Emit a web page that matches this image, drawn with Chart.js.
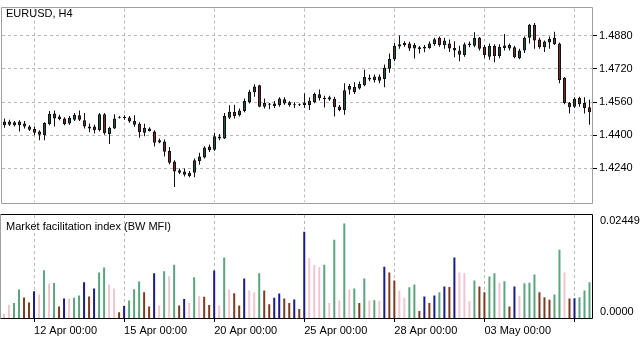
<!DOCTYPE html>
<html>
<head>
<meta charset="utf-8">
<script src="https://cdn.jsdelivr.net/npm/chart.js@4.4.1/dist/chart.umd.min.js"></script>
<style>
body { margin: 0; background: #fff; width: 640px; height: 339px; overflow: hidden; position: relative; font-family: "Liberation Sans", Arial, sans-serif; }
canvas { position: absolute; left: 0; }
#top { top: 0; }
#mfi { top: 211px; }
.lbl { position: absolute; font-size: 11px; line-height: 12px; color: #000; white-space: nowrap; }
</style>
</head>
<body>
<canvas id="top" width="640" height="211"></canvas>
<canvas id="mfi" width="640" height="128"></canvas>
<div class="lbl" id="t1" style="left:6px;top:7px"></div>
<div class="lbl" id="t2" style="left:6px;top:220px"></div>
<div class="lbl" id="m1" style="left:600px;top:214px"></div>
<div class="lbl" id="m2" style="left:600px;top:305px"></div>
<script>
// EURUSD H4, 11 Apr - 06 May (one entry per bar)
const opens = [
  1.4466,1.4451,1.4463,1.4448,1.4457,1.4442,1.4430,1.4418,1.4400,1.4454,
  1.4505,1.4478,1.4481,1.4457,1.4475,1.4496,1.4472,1.4442,1.4442,1.4425,
  1.4501,1.4406,1.4433,1.4484,1.4486,1.4486,1.4469,1.4456,1.4412,1.4433,
  1.4418,1.4365,1.4370,1.4325,1.4274,1.4219,1.4225,1.4204,1.4219,1.4276,
  1.4293,1.4346,1.4330,1.4394,1.4385,1.4484,1.4514,1.4496,1.4517,1.4559,
  1.4608,1.4641,1.4538,1.4553,1.4541,1.4545,1.4574,1.4559,1.4545,1.4547,
  1.4546,1.4546,1.4559,1.4598,1.4581,1.4573,1.4576,1.4539,1.4522,1.4620,
  1.4633,1.4626,1.4641,1.4678,1.4665,1.4684,1.4671,1.4721,1.4765,1.4828,
  1.4836,1.4843,1.4818,1.4825,1.4818,1.4821,1.4839,1.4870,1.4834,1.4843,
  1.4821,1.4809,1.4787,1.4843,1.4832,1.4870,1.4827,1.4779,1.4832,1.4782,
  1.4821,1.4836,1.4825,1.4772,1.4809,1.4870,1.4933,1.4862,1.4825,1.4847,
  1.4870,1.4843,1.4677,1.4556,1.4538,1.4581,1.4556,1.4535
];
const highs = [
  1.4481,1.4475,1.4469,1.4472,1.4469,1.4448,1.4442,1.4424,1.4463,1.4517,
  1.4520,1.4499,1.4487,1.4493,1.4508,1.4520,1.4508,1.4457,1.4451,1.4508,
  1.4508,1.4441,1.4501,1.4493,1.4496,1.4493,1.4496,1.4463,1.4456,1.4439,
  1.4424,1.4385,1.4379,1.4343,1.4279,1.4240,1.4240,1.4228,1.4288,1.4316,
  1.4347,1.4355,1.4412,1.4406,1.4508,1.4545,1.4547,1.4529,1.4577,1.4619,
  1.4646,1.4644,1.4577,1.4556,1.4565,1.4583,1.4583,1.4565,1.4559,1.4553,
  1.4603,1.4582,1.4606,1.4621,1.4591,1.4591,1.4586,1.4546,1.4651,1.4647,
  1.4656,1.4659,1.4716,1.4693,1.4693,1.4693,1.4741,1.4794,1.4846,1.4881,
  1.4854,1.4851,1.4845,1.4830,1.4836,1.4852,1.4870,1.4877,1.4870,1.4862,
  1.4854,1.4832,1.4847,1.4852,1.4897,1.4874,1.4836,1.4843,1.4839,1.4839,
  1.4888,1.4843,1.4832,1.4817,1.4877,1.4937,1.4942,1.4870,1.4857,1.4877,
  1.4899,1.4847,1.4681,1.4561,1.4583,1.4586,1.4583,1.4572
];
const lows = [
  1.4436,1.4445,1.4442,1.4418,1.4433,1.4421,1.4400,1.4376,1.4376,1.4448,
  1.4442,1.4472,1.4448,1.4451,1.4469,1.4469,1.4433,1.4415,1.4409,1.4418,
  1.4403,1.4358,1.4430,1.4481,1.4475,1.4460,1.4441,1.4388,1.4395,1.4418,
  1.4346,1.4361,1.4297,1.4260,1.4150,1.4213,1.4201,1.4198,1.4198,1.4258,
  1.4288,1.4319,1.4325,1.4376,1.4382,1.4478,1.4481,1.4490,1.4511,1.4553,
  1.4586,1.4535,1.4529,1.4526,1.4532,1.4538,1.4547,1.4538,1.4532,1.4541,
  1.4531,1.4522,1.4555,1.4568,1.4534,1.4567,1.4490,1.4516,1.4499,1.4597,
  1.4599,1.4621,1.4636,1.4660,1.4654,1.4651,1.4632,1.4701,1.4757,1.4817,
  1.4827,1.4806,1.4770,1.4794,1.4800,1.4817,1.4832,1.4827,1.4817,1.4802,
  1.4776,1.4757,1.4779,1.4825,1.4825,1.4809,1.4772,1.4764,1.4752,1.4772,
  1.4809,1.4809,1.4772,1.4767,1.4797,1.4843,1.4817,1.4817,1.4802,1.4817,
  1.4836,1.4651,1.4550,1.4505,1.4531,1.4538,1.4505,1.4451
];
const closes = [
  1.4448,1.4466,1.4448,1.4466,1.4442,1.4427,1.4412,1.4403,1.4460,1.4502,
  1.4481,1.4490,1.4454,1.4484,1.4499,1.4475,1.4442,1.4433,1.4424,1.4501,
  1.4410,1.4436,1.4481,1.4487,1.4483,1.4466,1.4451,1.4415,1.4436,1.4421,
  1.4364,1.4376,1.4321,1.4267,1.4225,1.4231,1.4210,1.4219,1.4279,1.4297,
  1.4341,1.4328,1.4395,1.4385,1.4493,1.4514,1.4493,1.4520,1.4565,1.4610,
  1.4635,1.4538,1.4556,1.4547,1.4553,1.4577,1.4553,1.4545,1.4550,1.4545,
  1.4558,1.4567,1.4599,1.4579,1.4575,1.4583,1.4535,1.4522,1.4617,1.4638,
  1.4607,1.4647,1.4681,1.4669,1.4684,1.4663,1.4726,1.4768,1.4832,1.4839,
  1.4845,1.4819,1.4836,1.4815,1.4827,1.4843,1.4863,1.4836,1.4857,1.4818,
  1.4809,1.4788,1.4839,1.4834,1.4870,1.4817,1.4787,1.4832,1.4782,1.4827,
  1.4833,1.4818,1.4776,1.4809,1.4870,1.4933,1.4857,1.4825,1.4852,1.4866,
  1.4839,1.4666,1.4556,1.4535,1.4576,1.4550,1.4531,1.4511
];

// BW MFI value and zone per bar (g = green, f = fade, b = fake, s = squat)
const mfi = [
  0.00100,0.00317,0.00354,0.00678,0.00489,0.00371,0.00638,0.00560,0.01134,0.00820,
  0.00831,0.00276,0.00465,0.00458,0.00482,0.00536,0.00850,0.00513,0.00702,0.01079,
  0.01198,0.00796,0.00702,0.00135,0.00283,0.00418,0.00685,0.00867,0.00614,0.00276,
  0.01063,0.00300,0.01110,0.00992,0.01268,0.00300,0.00449,0.00354,0.00968,0.00520,
  0.00505,0.00307,0.01127,0.00300,0.01441,0.00678,0.00591,0.00300,0.00938,0.00654,
  0.00614,0.01063,0.00654,0.00324,0.00482,0.00583,0.00465,0.00354,0.00442,0.00213,
  0.02048,0.01427,0.01261,0.01205,0.01268,0.00354,0.01859,0.00418,0.02244,0.00678,
  0.00702,0.00354,0.00938,0.00418,0.00425,0.00411,0.01221,0.01079,0.00890,0.00654,
  0.00482,0.00732,0.00796,0.00165,0.00513,0.00354,0.00536,0.00614,0.00749,0.00737,
  0.01441,0.01079,0.01072,0.00402,0.00890,0.00749,0.00614,0.00985,0.01063,0.00836,
  0.00874,0.00276,0.00749,0.00529,0.00827,0.00836,0.01032,0.00614,0.00496,0.00435,
  0.00560,0.01623,0.01079,0.00465,0.00470,0.00496,0.00654,0.00850
];
const mfiZone = [
  's','s','g','g','f','f','b','s','g','s',
  'g','f','b','s','g','g','b','f','b','g',
  'g','s','s','f','b','g','g','g','f','f',
  'b','s','g','s','g','f','b','s','g','s',
  'f','f','b','s','g','s','f','f','b','s',
  's','g','f','f','b','b','f','f','b','f',
  'b','s','s','s','g','s','g','s','g','s',
  'g','f','g','s','g','s','b','f','f','s',
  's','g','g','f','b','f','b','g','b','f',
  'b','s','s','s','g','f','f','g','g','s',
  'g','f','b','s','g','g','g','f','f','f',
  'g','g','s','f','b','g','g','g'
];

const priceTicks = [1.4240, 1.4400, 1.4560, 1.4720, 1.4880];
const priceMin = 1.40762, priceMax = 1.50110;
const mfiMax = 0.02449;
const mfiTickLabels = ['0.02449', '0.0000'];
const timeTickIndex = [6, 24, 42, 60, 78, 96, 114];
const timeTickLabels = ['12 Apr 00:00', '15 Apr 00:00', '20 Apr 00:00', '25 Apr 00:00', '28 Apr 00:00', '03 May 00:00', ''];

document.getElementById('t1').textContent = 'EURUSD, H4';
document.getElementById('t2').textContent = 'Market facilitation index (BW MFI)';
document.getElementById('m1').textContent = mfiTickLabels[0];
document.getElementById('m2').textContent = mfiTickLabels[1];

const zoneColors = { g: '#5aa57e', f: '#7d3c20', b: '#1a1a8a', s: '#efc5d0' };
const gridColor = '#b8b8b8';
const font = { family: '"Liberation Sans", Arial, sans-serif', size: 11 };
const labels = opens.map((o, i) => i);
const vGrid = c => timeTickIndex.includes(c.index) ? gridColor : 'rgba(0,0,0,0)';

// frame round the plot area
function frame(colors) {
  return {
    id: 'frame',
    afterDraw(chart) {
      const a = chart.chartArea, ctx = chart.ctx;
      const l = Math.floor(a.left) - 0.5, t = Math.floor(a.top) - 0.5;
      const r = Math.ceil(a.right) + 0.5, b = Math.ceil(a.bottom) + 0.5;
      ctx.save();
      ctx.lineWidth = 1;
      const side = (col, x1, y1, x2, y2) => {
        ctx.strokeStyle = col; ctx.beginPath(); ctx.moveTo(x1, y1); ctx.lineTo(x2, y2); ctx.stroke();
      };
      side(colors.top, l, t, r, t);
      side(colors.left, l, t, l, b);
      side(colors.right, r, t, r, b);
      side(colors.bottom, l, b, r, b);
      ctx.restore();
    }
  };
}

Chart.defaults.font.family = font.family;
Chart.defaults.font.size = 11;

new Chart(document.getElementById('top'), {
  type: 'bar',
  data: {
    labels: labels,
    datasets: [{
      data: opens.map((o, i) => [o, closes[i]]),
      backgroundColor: opens.map((o, i) => closes[i] >= o ? '#24553a' : '#7a2828'),
      borderColor: '#111',
      borderWidth: 1,
      borderSkipped: false,
      barThickness: 3,
      minBarLength: 1,
      inflateAmount: 0,
      grouped: false,
      order: 0
    }, {
      data: lows.map((l, i) => [l, highs[i]]),
      backgroundColor: '#111',
      barThickness: 1,
      inflateAmount: 0,
      grouped: false,
      order: 1
    }]
  },
  options: {
    responsive: false,
    animation: false,
    layout: { padding: { left: 2, top: 2, right: 0, bottom: 2 } },
    plugins: { legend: { display: false }, tooltip: { enabled: false } },
    scales: {
      x: {
        offset: true,
        grid: { offset: false, color: vGrid, drawTicks: false },
        border: { display: false, dash: [3, 3] },
        ticks: { display: false },
        afterFit: s => { s.height = 0; }
      },
      y: {
        position: 'right',
        min: priceMin,
        max: priceMax,
        afterBuildTicks: s => { s.ticks = priceTicks.map(v => ({ value: v })); },
        ticks: { callback: v => v.toFixed(4), color: '#000', font: font, padding: 2 },
        grid: { color: gridColor, tickColor: '#000', tickLength: 5 },
        border: { display: false, dash: [3, 3] },
        afterFit: s => { s.width = 48; }
      }
    }
  },
  plugins: [frame({ top: '#a0a0a0', left: '#a0a0a0', right: '#a0a0a0', bottom: '#a0a0a0' })]
});

new Chart(document.getElementById('mfi'), {
  type: 'bar',
  data: {
    labels: labels,
    datasets: [{
      data: mfi,
      backgroundColor: mfiZone.map(z => zoneColors[z]),
      barThickness: 2,
      inflateAmount: 0
    }]
  },
  options: {
    responsive: false,
    animation: false,
    layout: { padding: { left: 1.5, top: 4, right: 0, bottom: 0 } },
    plugins: { legend: { display: false }, tooltip: { enabled: false } },
    scales: {
      x: {
        offset: true,
        grid: { offset: false, color: vGrid, tickColor: c => timeTickIndex.includes(c.index) ? '#000' : 'rgba(0,0,0,0)', tickLength: 4 },
        border: { display: false, dash: [3, 3] },
        ticks: {
          autoSkip: false, maxRotation: 0, minRotation: 0, align: 'start', padding: 2,
          color: '#000', font: font,
          callback: (v, i) => { const k = timeTickIndex.indexOf(i); return k >= 0 ? timeTickLabels[k] : ''; }
        },
        afterFit: s => { s.height = 21; }
      },
      y: {
        position: 'right',
        min: 0,
        max: mfiMax,
        ticks: { display: false },
        grid: { display: false },
        border: { display: false },
        afterFit: s => { s.width = 48; }
      }
    }
  },
  plugins: [frame({ top: '#000', left: '#a0a0a0', right: '#000', bottom: '#000' })]
});
</script>
</body>
</html>
